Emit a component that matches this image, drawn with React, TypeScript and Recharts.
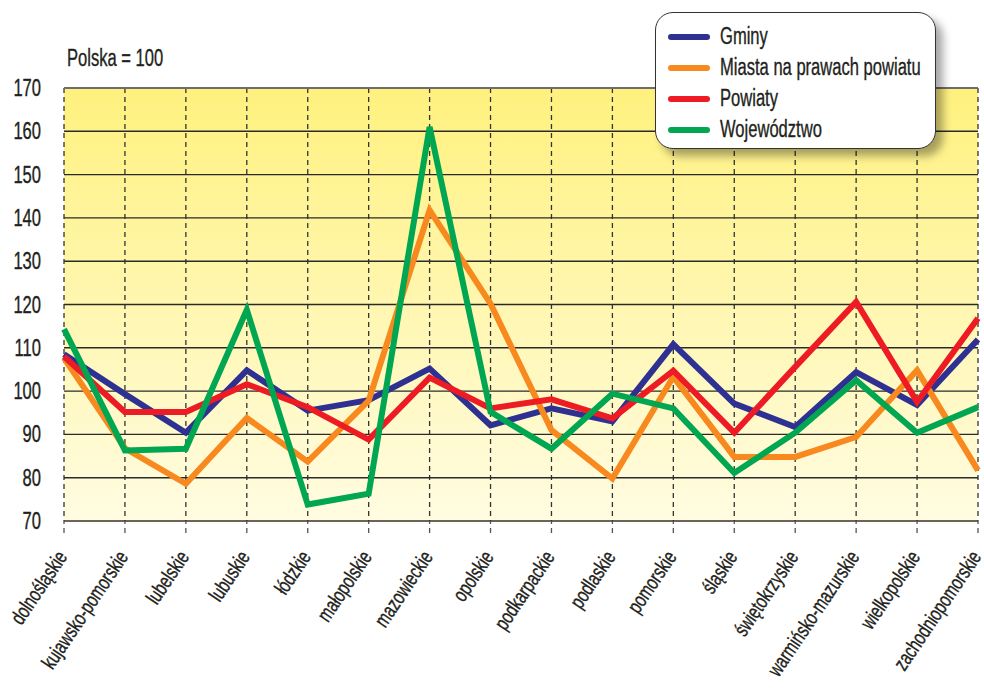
import React from "react";
import {
  LineChart,
  Line,
  XAxis,
  YAxis,
  CartesianGrid,
  ReferenceLine,
} from "recharts";

const regions = [
  "dolnośląskie",
  "kujawsko-pomorskie",
  "lubelskie",
  "lubuskie",
  "łódzkie",
  "małopolskie",
  "mazowieckie",
  "opolskie",
  "podkarpackie",
  "podlaskie",
  "pomorskie",
  "śląskie",
  "świętokrzyskie",
  "warmińsko-mazurskie",
  "wielkopolskie",
  "zachodniopomorskie",
];

const gminy = [108.5, 99.3, 90.4, 104.8, 95.5, 97.9, 105.2, 92.1, 96.0, 93.0, 110.8, 97.1, 91.7, 104.4, 96.8, 111.9];
const miasta = [107.6, 86.8, 78.6, 93.8, 83.7, 97.8, 141.8, 120.2, 91.0, 79.8, 103.3, 84.8, 84.8, 89.4, 104.8, 81.7];
const powiaty = [108.0, 95.2, 95.2, 101.6, 96.3, 88.8, 103.1, 96.0, 98.1, 93.7, 104.7, 90.4, 105.6, 120.6, 97.5, 116.8];
const wojewodztwo = [114.3, 86.3, 86.7, 118.8, 73.8, 76.3, 161.0, 95.2, 86.7, 99.4, 96.0, 81.1, 90.4, 102.5, 90.4, 96.3];

const yTicks = [70, 80, 90, 100, 110, 120, 130, 140, 150, 160, 170];
const gridValues = [80, 90, 100, 110, 120, 130, 140, 150, 160];

const seriesNames = ["Gminy", "Miasta na prawach powiatu", "Powiaty", "Województwo"];
const seriesColors = ["#2e3192", "#f7891f", "#ed1c24", "#00a651"];
const seriesKeys = ["gminy", "miasta", "powiaty", "woj"];

const data = regions.map((r, i) => ({
  name: r,
  gminy: gminy[i],
  miasta: miasta[i],
  powiaty: powiaty[i],
  woj: wojewodztwo[i],
}));

const FONT = "'Liberation Sans', Arial, sans-serif";
const SX = 0.72;
const TEXT = "#231f20";

const XTick = (props: any) => {
  const { x, y, payload } = props;
  return (
    <g transform={`translate(${x + 4},${y + 22}) rotate(-56) scale(${SX},1)`}>
      <text
        x={0}
        y={0}
        textAnchor="end"
        fontFamily={FONT}
        fontSize={21}
        fill={TEXT}
        stroke={TEXT}
        strokeWidth={0.35}
      >
        {payload.value}
      </text>
    </g>
  );
};

const YTick = (props: any) => {
  const { y, payload } = props;
  return (
    <g transform={`translate(41,${y + 8}) scale(${SX},1)`}>
      <text
        x={0}
        y={0}
        textAnchor="end"
        fontFamily={FONT}
        fontSize={23}
        fill={TEXT}
        stroke={TEXT}
        strokeWidth={0.35}
      >
        {payload.value}
      </text>
    </g>
  );
};

const Narrow = ({ children, size }: { children: React.ReactNode; size: number }) => (
  <span
    style={{
      display: "inline-block",
      transform: `scaleX(${SX})`,
      transformOrigin: "left center",
      whiteSpace: "nowrap",
      fontFamily: FONT,
      fontSize: size,
      color: TEXT,
      lineHeight: 1,
      WebkitTextStroke: "0.35px #231f20",
    }}
  >
    {children}
  </span>
);

const LegendBox = () => (
  <div
    style={{
      position: "absolute",
      left: 655,
      top: 12,
      width: 281,
      height: 137,
      border: "1.5px solid #333",
      borderRadius: 18,
      background: "#fff",
      boxShadow: "7px 7px 8px rgba(0,0,0,0.35)",
      boxSizing: "border-box",
      paddingTop: 8,
    }}
  >
    {seriesNames.map((n, i) => (
      <div key={n} style={{ display: "flex", alignItems: "center", height: 31 }}>
        <div
          style={{
            width: 42,
            height: 6,
            borderRadius: 3,
            background: seriesColors[i],
            marginLeft: 12,
            marginRight: 10,
            flex: "none",
          }}
        />
        <Narrow size={23}>{n}</Narrow>
      </div>
    ))}
  </div>
);

export default function App() {
  return (
    <div style={{ position: "absolute", left: 0, top: 0, width: 984, height: 689, background: "#fff" }}>
      <svg width={0} height={0} style={{ position: "absolute" }}>
        <defs>
          <linearGradient id="bgGrad" x1="0" y1="0" x2="0" y2="1">
            <stop offset="0%" stopColor="#fff17e" />
            <stop offset="100%" stopColor="#fffce2" />
          </linearGradient>
        </defs>
      </svg>
      <LineChart
        width={984}
        height={689}
        data={data}
        margin={{ top: 88, right: 6, bottom: 0, left: 0 }}
      >
        <CartesianGrid
          horizontal={false}
          vertical={true}
          fill="url(#bgGrad)"
          fillOpacity={1}
          stroke="#333"
          strokeWidth={1.3}
          strokeDasharray="5 4"
        />
        {gridValues.map((v) => (
          <ReferenceLine key={v} y={v} stroke="#2a2a2a" strokeWidth={1.4} />
        ))}
        <ReferenceLine y={170} stroke="#6d6d6d" strokeWidth={2} />
        <ReferenceLine y={70} stroke="#3a3520" strokeWidth={1.6} />
        <XAxis
          dataKey="name"
          interval={0}
          axisLine={false}
          tickLine={{ stroke: "#555", strokeDasharray: "5 4", strokeWidth: 1.3 }}
          tickSize={12}
          height={168}
          tick={<XTick />}
        />
        <YAxis
          domain={[70, 170]}
          ticks={yTicks}
          width={64}
          axisLine={false}
          tickLine={false}
          tick={<YTick />}
        />
        {seriesKeys.map((k, i) => (
          <Line
            key={k}
            dataKey={k}
            name={seriesNames[i]}
            stroke={seriesColors[i]}
            strokeWidth={6}
            dot={false}
            activeDot={false}
            type="linear"
            isAnimationActive={false}
          />
        ))}
      </LineChart>
      <div style={{ position: "absolute", left: 67, top: 47 }}>
        <Narrow size={23}>Polska = 100</Narrow>
      </div>
      <LegendBox />
    </div>
  );
}
